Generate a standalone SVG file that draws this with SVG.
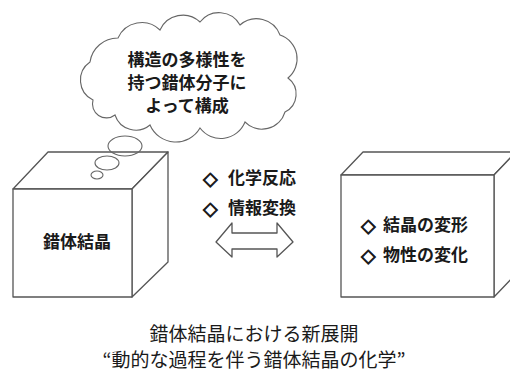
<svg xmlns="http://www.w3.org/2000/svg" width="510" height="373" viewBox="0 0 510 373">
  <style>
    .ln { fill: #ffffff; stroke: #555555; stroke-width: 1.3; stroke-linejoin: round; }
    .thin { fill: none; stroke: #666666; stroke-width: 1.1; }
    .lbl { font-family: "Noto Sans CJK JP", "Noto Sans", sans-serif; font-size: 17px; font-weight: bold; fill: #1a1a1a; }
    .dia { font-family: "DejaVu Sans", sans-serif; font-size: 19px; fill: #1a1a1a; stroke: #1a1a1a; stroke-width: 0.9; }
    .cap { font-family: "Noto Sans CJK JP", "Noto Sans", sans-serif; font-size: 19px; fill: #1a1a1a; }
  </style>
  <rect width="510" height="373" fill="#ffffff"/>

  <g id="cube-left">
    <polygon class="ln" points="13,189 48,152 168,152 132,189"/>
    <polygon class="ln" points="132,189 168,152 168,262 132,297"/>
    <rect class="ln" x="13" y="189" width="119" height="108"/>
    <text class="lbl" x="77" y="248" text-anchor="middle">錯体結晶</text>
  </g>

  <g id="thought-bubble">
    <path class="thin" fill="#ffffff" d="M 93 100 A 22 22 0 0 1 90 62 A 28 28 0 0 1 118 38 A 26 26 0 0 1 160 30 A 25 25 0 0 1 200 22 A 24 24 0 0 1 240 25 A 25 25 0 0 1 280 35 A 25 25 0 0 1 288 78 A 20 20 0 0 1 285 112 A 24 24 0 0 1 245 122 A 26 26 0 0 1 200 128 A 28 28 0 0 1 150 125 A 22 22 0 0 1 115 115 A 14 14 0 0 1 93 100 Z"/>
    <ellipse class="thin" cx="125" cy="146" rx="17" ry="10"/>
    <ellipse class="thin" cx="107" cy="163" rx="12" ry="7"/>
    <ellipse class="thin" cx="97" cy="175" rx="6" ry="4"/>
    <text class="lbl" x="187" y="66" text-anchor="middle">構造の多様性を</text>
    <text class="lbl" x="187" y="89" text-anchor="middle">持つ錯体分子に</text>
    <text class="lbl" x="187" y="112" text-anchor="middle">よって構成</text>
  </g>

  <g id="process-label">
    <text class="dia" x="203" y="185">◇</text>
    <text class="lbl" x="228" y="184">化学反応</text>
    <text class="dia" x="203" y="215">◇</text>
    <text class="lbl" x="228" y="214">情報変換</text>
  </g>

  <g id="connectors">
    <polygon class="ln" points="216,242 232,223 232,233 277,233 277,223 293,242 277,257 277,249 232,249 232,257"/>
  </g>

  <g id="cube-right">
    <polygon class="ln" points="341,175 363,152 516,152 494,175"/>
    <polygon class="ln" points="494,175 516,152 516,274 494,297"/>
    <rect class="ln" x="341" y="175" width="153" height="122"/>
    <text class="dia" x="361" y="232">◇</text>
    <text class="lbl" x="383" y="231">結晶の変形</text>
    <text class="dia" x="361" y="262">◇</text>
    <text class="lbl" x="383" y="261">物性の変化</text>
  </g>

  <g id="caption">
    <text class="cap" x="254" y="341" text-anchor="middle">錯体結晶における新展開</text>
    <text class="cap" x="254" y="367" text-anchor="middle">“動的な過程を伴う錯体結晶の化学”</text>
  </g>
</svg>
